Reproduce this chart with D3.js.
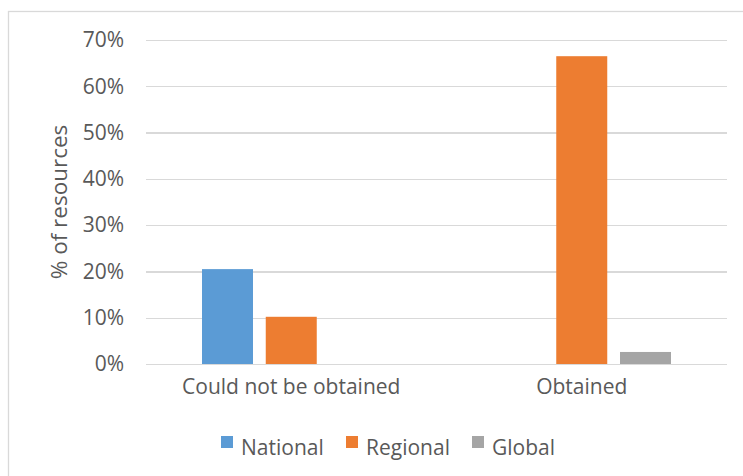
<!DOCTYPE html>
<html>
<head>
  <meta charset="utf-8">
  <style>
    body { margin: 0; background: #fff; }
    text { font-family: "Open Sans", sans-serif; fill: #595959; }
    .grid line { stroke: #d9d9d9; stroke-width: 1.3; shape-rendering: crispEdges; }
    .grid path { stroke-width: 0; }
  </style>
</head>
<body>
  <script src="https://d3js.org/d3.v7.min.js"></script>
  <script>
    var categories = ["Could not be obtained", "Obtained"];
    var seriesNames = ["National", "Regional", "Global"];
    var national = [0.205, 0];
    var regional = [0.102, 0.665];
    var global = [0, 0.026];
    var yTicks = [0, 0.1, 0.2, 0.3, 0.4, 0.5, 0.6, 0.7];
    var colors = ["#5b9bd5", "#ed7d31", "#a5a5a5"];

    var W = 743, H = 476;
    var fs = "21px";
    var margin = {top: 40, right: 16, bottom: 112, left: 146},
        width = W - margin.left - margin.right,
        height = H - margin.top - margin.bottom;

    var svg = d3.select("body").append("svg")
        .attr("width", W)
        .attr("height", H);

    // chart border (only left + top visible)
    svg.append("rect")
        .attr("x", 8.5).attr("y", 11.5)
        .attr("width", W).attr("height", H)
        .attr("fill", "none")
        .attr("stroke", "#d9d9d9")
        .attr("stroke-width", 1.3);

    var g = svg.append("g")
        .attr("transform", "translate(" + margin.left + "," + margin.top + ")");

    var x = d3.scaleBand().domain(categories).range([0, width]).paddingInner(0).paddingOuter(0);
    var x1 = d3.scaleBand().domain(seriesNames).range([56, x.bandwidth() - 56]).paddingInner(0.2).paddingOuter(0);
    var y = d3.scaleLinear().domain([0, 0.7]).range([height, 0]);

    g.append("g")
        .attr("class", "grid")
        .call(d3.axisLeft(y).tickValues(yTicks).tickSize(-width).tickFormat(""));

    var yAx = g.append("g")
        .call(d3.axisLeft(y).tickValues(yTicks).tickSize(0).tickPadding(22).tickFormat(d3.format(".0%")));
    yAx.select(".domain").remove();
    yAx.selectAll("text").style("font-size", fs).attr("fill", "#595959");

    var xAx = g.append("g")
        .attr("transform", "translate(0," + height + ")")
        .call(d3.axisBottom(x).tickSize(0).tickPadding(15));
    xAx.select(".domain").remove();
    xAx.selectAll("text").style("font-size", fs).attr("fill", "#595959");

    g.append("text")
        .attr("transform", "rotate(-90)")
        .attr("x", -height / 2)
        .attr("y", -79)
        .attr("text-anchor", "middle")
        .style("font-size", "22.5px")
        .text("% of resources");

    var series = [national, regional, global];
    var rows = [];
    series.forEach(function(vals, si) {
      vals.forEach(function(v, ci) {
        rows.push({s: seriesNames[si], c: categories[ci], v: v, color: colors[si]});
      });
    });

    g.selectAll(".bar")
      .data(rows)
      .enter().append("rect")
        .attr("class", "bar")
        .attr("x", function(d) { return x(d.c) + x1(d.s); })
        .attr("y", function(d) { return y(d.v); })
        .attr("width", x1.bandwidth())
        .attr("height", function(d) { return height - y(d.v); })
        .attr("fill", function(d) { return d.color; });

    // legend
    var legendX = [221, 346, 472];
    var legend = svg.append("g");
    seriesNames.forEach(function(name, i) {
      legend.append("rect")
          .attr("x", legendX[i]).attr("y", 436)
          .attr("width", 12).attr("height", 12)
          .attr("fill", colors[i]);
      legend.append("text")
          .attr("x", legendX[i] + 20).attr("y", 455)
          .style("font-size", fs)
          .text(name);
    });
  </script>
</body>
</html>
